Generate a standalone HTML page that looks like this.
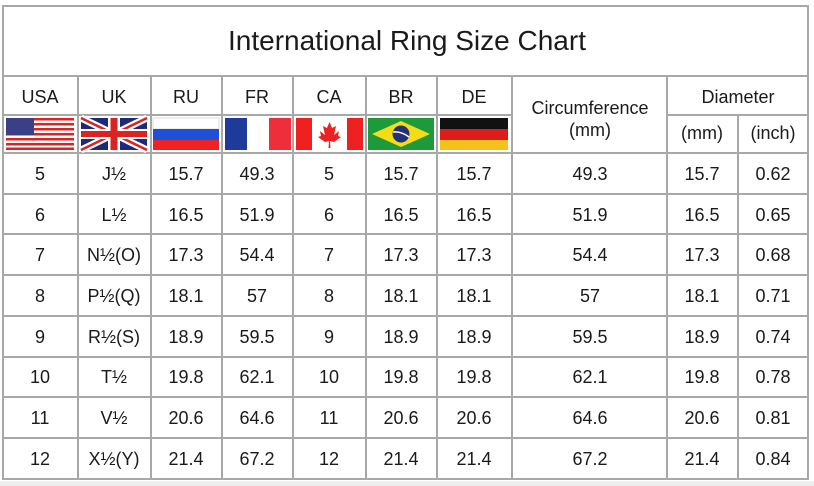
<!DOCTYPE html>
<html><head><meta charset="utf-8"><style>
html,body{margin:0;padding:0;background:#fff;width:814px;height:486px;overflow:hidden}
svg text{font-family:"Liberation Sans",sans-serif;fill:#1a1a1a}
</style></head><body>
<svg width="814" height="486" viewBox="0 0 814 486" xmlns="http://www.w3.org/2000/svg">
<rect x="0" y="0" width="814" height="486" fill="#fff"/>
<rect x="0" y="481" width="814" height="5" fill="#eee"/>
<g stroke="#a8a8a8" stroke-width="2" fill="none">
<rect x="3" y="6" width="805" height="473"/>
<line x1="3" y1="76" x2="808" y2="76"/>
<line x1="3" y1="115" x2="512" y2="115"/>
<line x1="667" y1="115" x2="808" y2="115"/>
<line x1="3" y1="153" x2="808" y2="153"/>
<line x1="3" y1="194" x2="808" y2="194"/>
<line x1="3" y1="234" x2="808" y2="234"/>
<line x1="3" y1="275" x2="808" y2="275"/>
<line x1="3" y1="316" x2="808" y2="316"/>
<line x1="3" y1="357" x2="808" y2="357"/>
<line x1="3" y1="397" x2="808" y2="397"/>
<line x1="3" y1="438" x2="808" y2="438"/>
<line x1="78" y1="76" x2="78" y2="479"/>
<line x1="151" y1="76" x2="151" y2="479"/>
<line x1="222" y1="76" x2="222" y2="479"/>
<line x1="293" y1="76" x2="293" y2="479"/>
<line x1="366" y1="76" x2="366" y2="479"/>
<line x1="437" y1="76" x2="437" y2="479"/>
<line x1="512" y1="76" x2="512" y2="479"/>
<line x1="667" y1="76" x2="667" y2="479"/>
<line x1="738" y1="115" x2="738" y2="479"/>
</g>
<text x="407" y="50" font-size="28" text-anchor="middle">International Ring Size Chart</text>
<g font-size="18" text-anchor="middle">
<text x="40" y="103">USA</text><text x="114" y="103">UK</text><text x="186" y="103">RU</text>
<text x="257" y="103">FR</text><text x="329" y="103">CA</text><text x="401" y="103">BR</text>
<text x="474" y="103">DE</text>
<text x="590" y="114">Circumference</text><text x="590" y="136">(mm)</text>
<text x="738" y="103">Diameter</text>
<text x="702" y="139">(mm)</text><text x="773" y="139">(inch)</text>
</g>
<g>
<g transform="translate(6,118)">
<rect width="68" height="32" fill="#fff"/>
<g fill="#d22">
<rect y="0" width="68" height="2.5"/><rect y="5" width="68" height="2.5"/><rect y="10" width="68" height="2.5"/>
<rect y="15" width="68" height="2.5"/><rect y="20" width="68" height="2.5"/><rect y="25" width="68" height="2.5"/><rect y="29.5" width="68" height="2.5"/>
</g>
<rect width="28" height="17" fill="#3a3f86"/>
</g>
<g transform="translate(81,118)">
<rect width="66" height="32" fill="#1e2a78"/>
<path d="M0 0L66 32M66 0L0 32" stroke="#fff" stroke-width="7"/>
<path d="M0 0L66 32M66 0L0 32" stroke="#d22" stroke-width="2.5"/>
<rect x="27" width="12" height="32" fill="#fff"/><rect y="11" width="66" height="10" fill="#fff"/>
<rect x="29.5" width="7" height="32" fill="#d22"/><rect y="13" width="66" height="6" fill="#d22"/>
</g>
<g transform="translate(153,118)">
<rect width="66" height="11" fill="#fff" stroke="#ddd"/><rect y="11" width="66" height="11" fill="#1e4fd8"/><rect y="22" width="66" height="10" fill="#e22"/>
</g>
<g transform="translate(225,118)">
<rect width="22" height="32" fill="#1e3a9a"/><rect x="22" width="22" height="32" fill="#fff"/><rect x="44" width="22" height="32" fill="#ee2e3a"/>
</g>
<g transform="translate(296,118)">
<rect width="67" height="32" fill="#fff"/><rect width="16" height="32" fill="#ee2020"/><rect x="51" width="16" height="32" fill="#ee2020"/>
<path d="M33.5 4L36 10L40 8L38 17L43 13L42 18L45 19L38 24L34 23L34.5 30H32.5L33 23L29 24L22 19L25 18L24 13L29 17L27 8L31 10Z" fill="#ee2020"/>
</g>
<g transform="translate(368,118)">
<rect width="66" height="32" fill="#1f9a3a"/>
<path d="M33 3L62 16L33 29L4 16Z" fill="#f6dc14"/>
<circle cx="33" cy="16" r="8.5" fill="#24307a"/>
<path d="M25 14Q33 13 41 19" stroke="#fff" stroke-width="1.5" fill="none"/>
</g>
<g transform="translate(440,118)">
<rect width="68" height="11" fill="#111"/><rect y="11" width="68" height="11" fill="#dd1c1c"/><rect y="22" width="68" height="10" fill="#f4c21a"/>
</g>
</g>
<g font-size="18" text-anchor="middle">
<g transform="translate(0,180)">
<text x="40">5</text><text x="114">J½</text><text x="186">15.7</text><text x="257">49.3</text><text x="329">5</text><text x="401">15.7</text><text x="474">15.7</text><text x="590">49.3</text><text x="702">15.7</text><text x="773">0.62</text>
</g>
<g transform="translate(0,221)">
<text x="40">6</text><text x="114">L½</text><text x="186">16.5</text><text x="257">51.9</text><text x="329">6</text><text x="401">16.5</text><text x="474">16.5</text><text x="590">51.9</text><text x="702">16.5</text><text x="773">0.65</text>
</g>
<g transform="translate(0,261)">
<text x="40">7</text><text x="114">N½(O)</text><text x="186">17.3</text><text x="257">54.4</text><text x="329">7</text><text x="401">17.3</text><text x="474">17.3</text><text x="590">54.4</text><text x="702">17.3</text><text x="773">0.68</text>
</g>
<g transform="translate(0,302)">
<text x="40">8</text><text x="114">P½(Q)</text><text x="186">18.1</text><text x="257">57</text><text x="329">8</text><text x="401">18.1</text><text x="474">18.1</text><text x="590">57</text><text x="702">18.1</text><text x="773">0.71</text>
</g>
<g transform="translate(0,343)">
<text x="40">9</text><text x="114">R½(S)</text><text x="186">18.9</text><text x="257">59.5</text><text x="329">9</text><text x="401">18.9</text><text x="474">18.9</text><text x="590">59.5</text><text x="702">18.9</text><text x="773">0.74</text>
</g>
<g transform="translate(0,383)">
<text x="40">10</text><text x="114">T½</text><text x="186">19.8</text><text x="257">62.1</text><text x="329">10</text><text x="401">19.8</text><text x="474">19.8</text><text x="590">62.1</text><text x="702">19.8</text><text x="773">0.78</text>
</g>
<g transform="translate(0,424)">
<text x="40">11</text><text x="114">V½</text><text x="186">20.6</text><text x="257">64.6</text><text x="329">11</text><text x="401">20.6</text><text x="474">20.6</text><text x="590">64.6</text><text x="702">20.6</text><text x="773">0.81</text>
</g>
<g transform="translate(0,465)">
<text x="40">12</text><text x="114">X½(Y)</text><text x="186">21.4</text><text x="257">67.2</text><text x="329">12</text><text x="401">21.4</text><text x="474">21.4</text><text x="590">67.2</text><text x="702">21.4</text><text x="773">0.84</text>
</g>
</g>
</svg>
</body></html>
